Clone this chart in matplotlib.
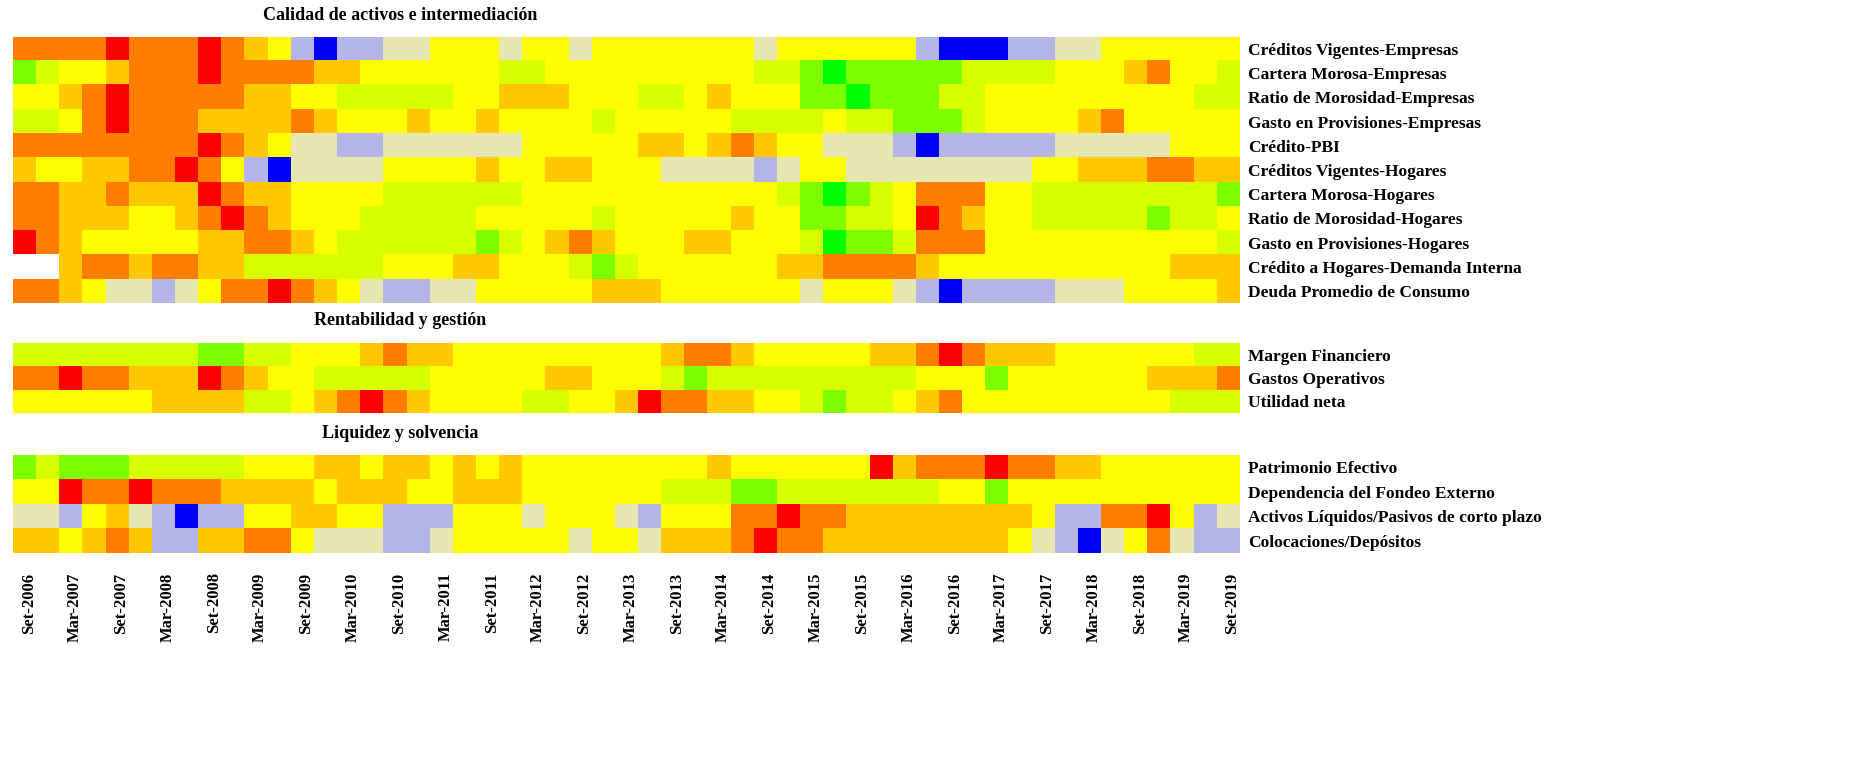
import numpy as np
import matplotlib
matplotlib.use("Agg")
import matplotlib.pyplot as plt
from matplotlib.colors import LinearSegmentedColormap

N = np.nan
# Quarterly risk levels (0 = low ... 6 = high), Q3-2006 .. Q4-2019
cred_vig_emp   = [5,5, 5,5,6,5, 5,5,6,5, 4,3,1,0, 1,1,2,2, 3,3,3,2, 3,3,2,3, 3,3,3,3, 3,3,2,3, 3,3,3,3, 3,1,0,0, 0,1,1,2, 2,3,3,3, 3,3,3,4]
cart_mor_emp   = [1,2, 3,3,4,5, 5,5,6,5, 5,5,5,4, 4,3,3,3, 3,3,3,2, 2,3,3,3, 3,3,3,3, 3,3,2,2, 1,0,1,1, 1,1,1,2, 2,2,2,3, 3,3,4,5, 3,3,2,3]
ratio_mor_emp  = [3,3, 4,5,6,5, 5,5,5,5, 4,4,3,3, 2,2,2,2, 2,3,3,4, 4,4,3,3, 3,2,2,3, 4,3,3,3, 1,1,0,1, 1,1,2,2, 3,3,3,3, 3,3,3,3, 3,2,2,1]
gasto_prov_emp = [2,2, 3,5,6,5, 5,5,4,4, 4,4,5,4, 3,3,3,4, 3,3,4,3, 3,3,3,2, 3,3,3,3, 3,2,2,2, 2,3,2,2, 1,1,1,2, 3,3,3,3, 4,5,3,3, 3,3,3,3]
credito_pbi    = [5,5, 5,5,5,5, 5,5,6,5, 4,3,2,2, 1,1,2,2, 2,2,2,2, 3,3,3,3, 3,4,4,3, 4,5,4,3, 3,2,2,2, 1,0,1,1, 1,1,1,2, 2,2,2,2, 3,3,3,4]
cred_vig_hog   = [4,3, 3,4,4,5, 5,6,5,3, 1,0,2,2, 2,2,3,3, 3,3,4,3, 3,4,4,3, 3,3,2,2, 2,2,1,2, 3,3,2,2, 2,2,2,2, 2,2,3,3, 4,4,4,5, 5,4,4,5]
cart_mor_hog   = [5,5, 4,4,5,4, 4,4,6,5, 4,4,3,3, 3,3,2,2, 2,2,2,2, 3,3,3,3, 3,3,3,3, 3,3,3,2, 1,0,1,2, 3,5,5,5, 3,3,2,2, 2,2,2,2, 2,2,1,2]
ratio_mor_hog  = [5,5, 4,4,4,3, 3,4,5,6, 5,4,3,3, 3,2,2,2, 2,2,3,3, 3,3,3,2, 3,3,3,3, 3,4,3,3, 1,1,2,2, 3,6,5,4, 3,3,2,2, 2,2,2,1, 2,2,3,3]
gasto_prov_hog = [6,5, 4,3,3,3, 3,3,4,4, 5,5,4,3, 2,2,2,2, 2,2,1,2, 3,4,5,4, 3,3,3,4, 4,3,3,3, 2,0,1,1, 2,5,5,5, 3,3,3,3, 3,3,3,3, 3,3,2,3]
cred_hog_di    = [N,N, 4,5,5,4, 5,5,4,4, 2,2,2,2, 2,2,3,3, 3,4,4,3, 3,3,2,1, 2,3,3,3, 3,3,3,4, 4,5,5,5, 5,4,3,3, 3,3,3,3, 3,3,3,3, 4,4,4,5]
deuda_consumo  = [5,5, 4,3,2,2, 1,2,3,5, 5,6,5,4, 3,2,1,1, 2,2,3,3, 3,3,3,4, 4,4,3,3, 3,3,3,3, 2,3,3,3, 2,1,0,1, 1,1,1,2, 2,2,3,3, 3,3,4,5]

margen_fin     = [2,2, 2,2,2,2, 2,2,1,1, 2,2,3,3, 3,4,5,4, 4,3,3,3, 3,3,3,3, 3,3,4,5, 5,4,3,3, 3,3,3,4, 4,5,6,5, 4,4,4,3, 3,3,3,3, 3,2,2,1]
gastos_oper    = [5,5, 6,5,5,4, 4,4,6,5, 4,3,3,2, 2,2,2,2, 3,3,3,3, 3,4,4,3, 3,3,2,1, 2,2,2,2, 2,2,2,2, 2,3,3,3, 1,3,3,3, 3,3,3,4, 4,4,5,5]
utilidad_neta  = [3,3, 3,3,3,3, 4,4,4,4, 2,2,3,4, 5,6,5,4, 3,3,3,3, 2,2,3,3, 4,6,5,5, 4,4,3,3, 2,1,2,2, 3,4,5,3, 3,3,3,3, 3,3,3,3, 2,2,2,1]

patrimonio     = [1,2, 1,1,1,2, 2,2,2,2, 3,3,3,4, 4,3,4,4, 3,4,3,4, 3,3,3,3, 3,3,3,3, 4,3,3,3, 3,3,3,6, 4,5,5,5, 6,5,5,4, 4,3,3,3, 3,3,3,2]
fondeo_ext     = [3,3, 6,5,5,6, 5,5,5,4, 4,4,4,3, 4,4,4,3, 3,4,4,4, 3,3,3,3, 3,3,2,2, 2,1,1,2, 2,2,2,2, 2,2,3,3, 1,3,3,3, 3,3,3,3, 3,3,3,3]
activos_liq    = [2,2, 1,3,4,2, 1,0,1,1, 3,3,4,4, 3,3,1,1, 1,3,3,3, 2,3,3,3, 2,1,3,3, 3,5,5,6, 5,5,4,4, 4,4,4,4, 4,4,3,1, 1,5,5,6, 3,1,2,2]
coloc_dep      = [4,4, 3,4,5,4, 1,1,4,4, 5,5,3,2, 2,2,1,1, 2,3,3,3, 3,3,2,3, 3,2,4,4, 4,5,6,5, 5,4,4,4, 4,4,4,4, 4,3,2,1, 0,2,3,5, 2,1,1,1]

panels = [
    ("Calidad de activos e intermediación", [
        ("Créditos Vigentes-Empresas", cred_vig_emp, "b"),
        ("Cartera Morosa-Empresas", cart_mor_emp, "g"),
        ("Ratio de Morosidad-Empresas", ratio_mor_emp, "g"),
        ("Gasto en Provisiones-Empresas", gasto_prov_emp, "g"),
        ("Crédito-PBI", credito_pbi, "b"),
        ("Créditos Vigentes-Hogares", cred_vig_hog, "b"),
        ("Cartera Morosa-Hogares", cart_mor_hog, "g"),
        ("Ratio de Morosidad-Hogares", ratio_mor_hog, "g"),
        ("Gasto en Provisiones-Hogares", gasto_prov_hog, "g"),
        ("Crédito a Hogares-Demanda Interna", cred_hog_di, "g"),
        ("Deuda Promedio de Consumo", deuda_consumo, "b")]),
    ("Rentabilidad y gestión", [
        ("Margen Financiero", margen_fin, "g"),
        ("Gastos Operativos", gastos_oper, "g"),
        ("Utilidad neta", utilidad_neta, "g")]),
    ("Liquidez y solvencia", [
        ("Patrimonio Efectivo", patrimonio, "g"),
        ("Dependencia del Fondeo Externo", fondeo_ext, "g"),
        ("Activos Líquidos/Pasivos de corto plazo", activos_liq, "b"),
        ("Colocaciones/Depósitos", coloc_dep, "b")]),
]

tick_labels = []
for y in range(2006, 2020):
    if y > 2006:
        tick_labels.append(f"Mar-{y}")
    tick_labels.append(f"Set-{y}")

cmap_b = LinearSegmentedColormap.from_list("b", ["#0000ff", "#b8b8e8", "#e6e6b0", "#ffff00", "#ffc800", "#ff8000", "#ff0000"])
cmap_g = LinearSegmentedColormap.from_list("g", ["#00ff00", "#80ff00", "#d8ff00", "#ffff00", "#ffc800", "#ff8000", "#ff0000"])

W, H = 1854, 772
fig = plt.figure(figsize=(W/100, H/100), dpi=100)
boxes = [(37, 303), (343, 413), (455, 553)]
left, right = 8, 1240
font = dict(family="Liberation Serif", fontweight="bold")

for (title, rows), (top, bot) in zip(panels, boxes):
    ax = fig.add_axes([left/W, 1-bot/H, (right-left)/W, (bot-top)/H])
    n = len(rows)
    img = np.ones((n, len(rows[0][1]), 4))
    for i, (name, vals, cm) in enumerate(rows):
        v = np.array(vals, dtype=float)
        cmap = cmap_b if cm == "b" else cmap_g
        c = cmap(np.nan_to_num(v, nan=3) / 6.0)
        c[np.isnan(v)] = [1, 1, 1, 1]
        img[i] = c
    ncol = img.shape[1]
    ax.imshow(img, aspect="auto", interpolation="nearest",
              extent=(0, 3*ncol, n, 0))
    ax.set_xlim(-0.7, 159)
    ax.set_ylim(n, 0)
    for s in ax.spines.values():
        s.set_visible(False)
    ax.set_yticks(np.arange(n) + 0.5)
    ax.set_yticklabels([r[0] for r in rows], fontsize=12.5, **font)
    ax.yaxis.tick_right()
    ax.tick_params(axis="y", length=0, pad=6)
    ax.set_xticks([])
    fig.text(400/W, 1-(top-22)/H, title, ha="center", va="center", fontsize=13, **font)
    last = ax

last.set_xticks(np.arange(2, 2 + 6*len(tick_labels), 6))
last.set_xticklabels(tick_labels, rotation=90, fontsize=12, **font)
last.tick_params(axis="x", length=0, pad=14)

fig.savefig("out.png", dpi=100)
